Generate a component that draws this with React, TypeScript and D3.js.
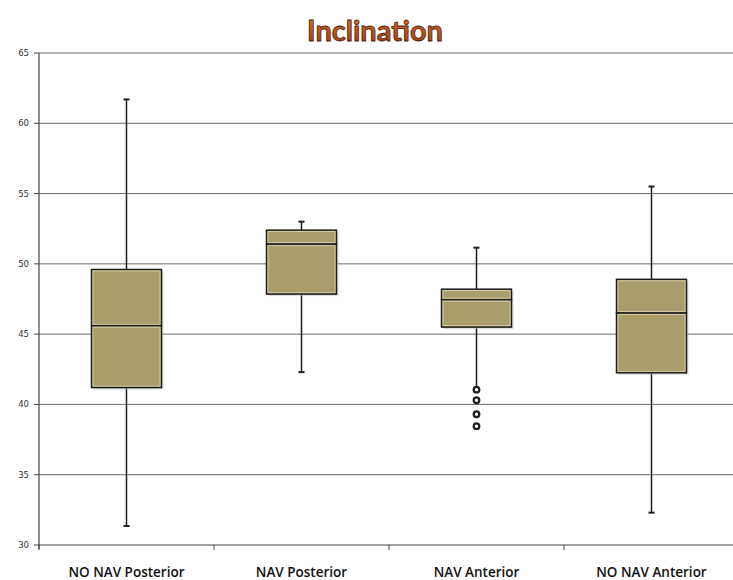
import React from "react";
import * as d3 from "d3";

const categories = ["NO NAV Posterior", "NAV Posterior", "NAV Anterior", "NO NAV Anterior"];
const whiskerLow = [31.35, 42.3, 41.05, 32.3];
const q1 = [41.2, 47.85, 45.5, 42.25];
const median = [45.6, 51.4, 47.45, 46.5];
const q3 = [49.6, 52.4, 48.2, 48.9];
const whiskerHigh = [61.7, 53.0, 51.15, 55.5];
const outliers = [[], [], [41.05, 40.3, 39.3, 38.45], []];
const yTicks = [30, 35, 40, 45, 50, 55, 60, 65];
const title = "Inclination";

export default function App() {
  const W = 733, H = 580;
  const left = 39, right = 739, top = 53, bottom = 545;
  const x = d3.scaleBand<string>().domain(categories).range([left, right]).padding(0);
  const y = d3.scaleLinear().domain([30, 65]).range([bottom, top]);
  const boxW = x.bandwidth() * 0.4;
  const fill = "#a99d6b";
  const dark = "#1e1e1a";
  const light = "#e8e2c8";

  return (
    <svg width={W} height={H} style={{ position: "absolute", left: 0, top: 0 }}>
      <defs>
        <linearGradient id="tg" x1="0" y1="0" x2="0" y2="1">
          <stop offset="0%" stopColor="#e07a2e" />
          <stop offset="100%" stopColor="#9c3a10" />
        </linearGradient>
      </defs>
      <rect width={W} height={H} fill="#fff" />
      <text x={375} y={41} textAnchor="middle" fontFamily="Lato, sans-serif" fontWeight={700}
        fontSize={29} fill="url(#tg)" stroke="#4a1a08" strokeWidth={0.8}>{title}</text>
      {yTicks.map((t) => (
        <g key={t}>
          <line x1={left} x2={W} y1={y(t)} y2={y(t)} stroke={t === 30 ? "#444" : "#6a6a6a"} strokeWidth={1} />
          <line x1={left - 5} x2={left} y1={y(t)} y2={y(t)} stroke="#444" />
          <text x={left - 10} y={y(t) + 3} textAnchor="end" fontFamily="'DejaVu Sans', sans-serif" fontSize={8.5} fill="#333">{t}</text>
        </g>
      ))}
      <line x1={left} x2={left} y1={top} y2={bottom + 4} stroke="#444" strokeWidth={1.2} />
      {categories.map((c, i) => (
        <line key={"t" + i} x1={x(c) as number} x2={x(c) as number} y1={bottom} y2={bottom + 5} stroke="#444" />
      ))}
      {categories.map((c) => (
        <text key={"l" + c} x={(x(c) as number) + x.bandwidth() / 2} y={577} textAnchor="middle"
          fontFamily="'Open Sans', sans-serif" fontWeight={600} fontSize={13.5} fill="#111">{c}</text>
      ))}
      {categories.map((c, i) => {
        const cx = (x(c) as number) + x.bandwidth() / 2;
        const bx = cx - boxW / 2;
        return (
          <g key={"b" + i}>
            <line x1={cx} x2={cx} y1={y(whiskerHigh[i])} y2={y(q3[i])} stroke={dark} strokeWidth={1.5} />
            <line x1={cx} x2={cx} y1={y(q1[i])} y2={y(whiskerLow[i])} stroke={dark} strokeWidth={1.5} />
            <line x1={cx - 3} x2={cx + 3} y1={y(whiskerHigh[i])} y2={y(whiskerHigh[i])} stroke={dark} strokeWidth={2} />
            <line x1={cx - 3} x2={cx + 3} y1={y(whiskerLow[i])} y2={y(whiskerLow[i])} stroke={dark} strokeWidth={2} />
            <rect x={bx + 2} y={y(q3[i]) + 2} width={boxW} height={y(q1[i]) - y(q3[i])} fill="#bbb" opacity={0.5} />
            <rect x={bx} y={y(q3[i])} width={boxW} height={y(median[i]) - y(q3[i])} fill={fill} stroke={dark} strokeWidth={1.5} />
            <rect x={bx} y={y(median[i])} width={boxW} height={y(q1[i]) - y(median[i])} fill={fill} stroke={dark} strokeWidth={1.5} />
            <rect x={bx + 1.5} y={y(q3[i]) + 1.5} width={boxW - 3} height={y(median[i]) - y(q3[i]) - 3} fill="none" stroke={light} strokeWidth={0.8} opacity={0.8} />
            <rect x={bx + 1.5} y={y(median[i]) + 1.5} width={boxW - 3} height={y(q1[i]) - y(median[i]) - 3} fill="none" stroke={light} strokeWidth={0.8} opacity={0.8} />
            {outliers[i].map((o, k) => (
              <circle key={k} cx={cx} cy={y(o)} r={2.8} fill="#fff" stroke={dark} strokeWidth={2.2} />
            ))}
          </g>
        );
      })}
    </svg>
  );
}
